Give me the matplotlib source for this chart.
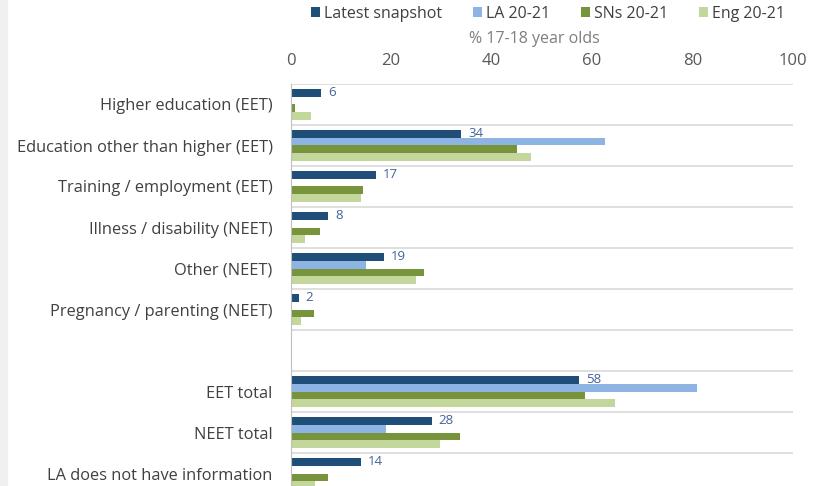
import numpy as np
import matplotlib
matplotlib.use("Agg")
import matplotlib.pyplot as plt

categories = ["Higher education (EET)",
              "Education other than higher (EET)",
              "Training / employment (EET)",
              "Illness / disability (NEET)",
              "Other (NEET)",
              "Pregnancy / parenting (NEET)",
              "",
              "EET total",
              "NEET total",
              "LA does not have information"]
nan = np.nan
latest = [6, 34, 17, 7.5, 18.6, 1.6, nan, 57.4, 28.1, 13.9]
latest_labels = ["6", "34", "17", "8", "19", "2", "", "58", "28", "14"]
la_2021 = [nan, 62.6, nan, nan, 15.0, nan, nan, 80.8, 19.0, nan]
sns_2021 = [0.8, 45.1, 14.3, 5.9, 26.5, 4.7, nan, 58.6, 33.7, 7.5]
eng_2021 = [4.0, 47.9, 13.9, 2.8, 25.0, 2.0, nan, 64.6, 29.7, 4.8]
series_names = ["Latest snapshot", "LA 20-21", "SNs 20-21", "Eng 20-21"]

# colours (Excel-ish)
dark_blue = "#1f4e79"
light_blue = "#8eb4e3"
dark_green = "#77933c"
light_green = "#c3d69b"
label_col = "#44619a"
grid_col = "#d9d9d9"
text_col = "#404040"

plt.rcParams['font.family'] = ['Open Sans', 'DejaVu Sans']

fig = plt.figure(figsize=(8.2, 4.86), dpi=100)
fig.patch.set_facecolor("white")
# grey strip down the left edge
fig.patches.append(matplotlib.patches.Rectangle((0, 0), 7 / 820, 1, transform=fig.transFigure,
                                                color="#f0f0f0", zorder=0))

ax = fig.add_axes([290.7 / 820, -8 / 486, (793 - 290.7) / 820, 410 / 486])

n = len(categories)
y = np.arange(n)
h = 0.195
series = [latest, la_2021, sns_2021, eng_2021]
colors = [dark_blue, light_blue, dark_green, light_green]
offsets = [-1.5 * h, -0.5 * h, 0.5 * h, 1.5 * h]
for vals, col, off, name in zip(series, colors, offsets, series_names):
    ax.barh(y + off, np.nan_to_num(vals), height=h, color=col, label=name, zorder=2)

for i, (v, lab) in enumerate(zip(latest, latest_labels)):
    if lab:
        ax.annotate(lab, xy=(v, y[i] + offsets[0]), xytext=(5, 0), textcoords="offset points",
                    ha="left", va="center", fontsize=9.5, color=label_col)

ax.set_ylim(n - 0.5, -0.5)
ax.set_xlim(0, 100)
ax.set_yticks(y)
ax.set_yticklabels(categories, fontsize=11.8, color=text_col)
ax.set_xticks([0, 20, 40, 60, 80, 100])
ax.xaxis.tick_top()
ax.xaxis.set_label_position("top")
ax.tick_params(axis="x", length=0, labelsize=12, colors="#595959", pad=11)
ax.tick_params(axis="y", length=0, pad=13)
ax.set_xlabel("% 17-18 year olds", fontsize=11.5, color="#7f7f7f", labelpad=7)
ax.xaxis.label.set_x((534 - 290.7) / (793 - 290.7))

for b in np.arange(-0.5, n, 1.0):
    ax.axhline(b, color=grid_col, lw=1.2, zorder=1)
for s in ["top", "right", "bottom"]:
    ax.spines[s].set_visible(False)
ax.spines["left"].set_color("#bfbfbf")

ax.legend(ncol=4, frameon=False, loc="center", bbox_to_anchor=(548 / 820, 1 - 14 / 486),
          bbox_transform=fig.transFigure, fontsize=11.5, handlelength=0.6, handleheight=0.6,
          columnspacing=1.9, handletextpad=0.25, labelcolor=text_col)

fig.savefig("out.png", dpi=100)
